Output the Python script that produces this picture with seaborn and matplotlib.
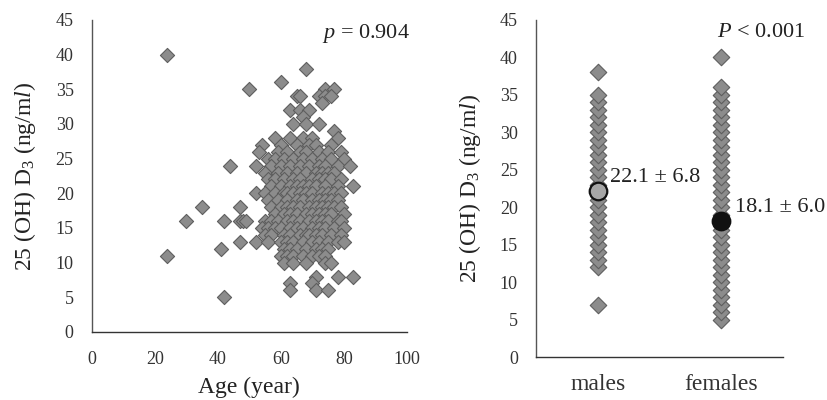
import numpy as np
import pandas as pd
import matplotlib
matplotlib.use('Agg')
import matplotlib.pyplot as plt
import seaborn as sns

# ── Data ─────────────────────────────────────────────────────
# left panel: age vs 25(OH)D3
age = [24,
       68, 60, 50, 74, 77, 65, 66, 72, 74, 76, 73, 63, 66, 69, 67,
       64, 68, 72, 77, 58, 63, 67, 70, 78,
       54, 60, 65, 69, 71, 76,
       53, 59, 62, 66, 68, 72, 75, 79,
       56, 58, 61, 64, 67, 70, 73, 76, 80,
       44, 52, 57, 60, 63, 66, 69, 72, 74, 78, 82,
       55, 59, 62, 65, 68, 71, 73, 75, 77,
       56, 58, 61, 64, 66, 70, 72, 74, 76, 79,
       57, 60, 63, 65, 67, 69, 71, 74, 78, 83,
       52, 55, 58, 61, 62, 64, 66, 68, 70, 73, 75, 77, 79,
       56, 59, 62, 65, 67, 70, 72, 74, 76, 78,
       35, 47, 57, 60, 62, 64, 66, 69, 71, 73, 75, 77, 79,
       58, 61, 63, 65, 68, 70, 72, 74, 76, 80,
       30, 42, 47, 48, 49, 55, 57, 59, 62, 64, 66, 69, 71, 73, 75, 78, 79,
       54, 56, 58, 60, 63, 65, 67, 70, 72, 74, 77, 80,
       55, 57, 61, 63, 66, 68, 69, 71, 73, 76, 79,
       47, 52, 56, 60, 62, 64, 67, 70, 72, 75, 78, 80,
       41, 61, 63, 65, 68, 71, 73, 75,
       24, 60, 62, 64, 67, 70, 72, 74,
       61, 64, 68, 74, 76,
       71, 78, 83, 63, 70, 63, 71, 75, 42]
vit_d = [40,
         38, 36, 35, 35, 35, 34, 34, 34, 34, 34, 33, 32, 32, 32, 31,
         30, 30, 30, 29, 28, 28, 28, 28, 28,
         27, 27, 27, 27, 27, 27,
         26, 26, 26, 26, 26, 26, 26, 26,
         25, 25, 25, 25, 25, 25, 25, 25, 25,
         24, 24, 24, 24, 24, 24, 24, 24, 24, 24, 24,
         23, 23, 23, 23, 23, 23, 23, 23, 23,
         22, 22, 22, 22, 22, 22, 22, 22, 22, 22,
         21, 21, 21, 21, 21, 21, 21, 21, 21, 21,
         20, 20, 20, 20, 20, 20, 20, 20, 20, 20, 20, 20, 20,
         19, 19, 19, 19, 19, 19, 19, 19, 19, 19,
         18, 18, 18, 18, 18, 18, 18, 18, 18, 18, 18, 18, 18,
         17, 17, 17, 17, 17, 17, 17, 17, 17, 17,
         16, 16, 16, 16, 16, 16, 16, 16, 16, 16, 16, 16, 16, 16, 16, 16, 16,
         15, 15, 15, 15, 15, 15, 15, 15, 15, 15, 15, 15,
         14, 14, 14, 14, 14, 14, 14, 14, 14, 14, 14,
         13, 13, 13, 13, 13, 13, 13, 13, 13, 13, 13, 13,
         12, 12, 12, 12, 12, 12, 12, 12,
         11, 11, 11, 11, 11, 11, 11, 11,
         10, 10, 10, 10, 10,
         8, 8, 8, 7, 7, 6, 6, 6, 5]

# right panel: distinct levels per sex
males_vals = [7] + list(range(12, 36)) + [38]
females_vals = list(range(5, 37)) + [40]
sex_order = ['males', 'females']
sex_means = [22.1, 18.1]
sex_sd = [6.8, 6.0]

# ── Style ────────────────────────────────────────────────────
sns.set_style('white')
plt.rcParams.update({
    'font.family': ['Liberation Serif', 'DejaVu Serif'],
    'mathtext.fontset': 'custom',
    'mathtext.rm': 'Liberation Serif',
    'mathtext.it': 'Liberation Serif:italic',
    'text.color': '#222222',
    'axes.labelcolor': '#222222',
    'xtick.color': '#333333',
    'ytick.color': '#333333',
    'axes.edgecolor': '#333333',
})

DIAMOND_FC = '#8c8c8c'
DIAMOND_EC = '#5e5e5e'
YLABEL = r'25 (OH) D$_3$ (ng/m$\it{l}$)'

fig = plt.figure(figsize=(8.27, 4.0), dpi=100)
fig.patch.set_facecolor('white')

# ── Left: scatter age vs vit D ───────────────────────────────
ax1 = fig.add_axes([0.111, 0.17, 0.381, 0.78])
sns.scatterplot(x=age, y=vit_d, ax=ax1, marker='D', s=52,
                color=DIAMOND_FC, edgecolor=DIAMOND_EC, linewidth=0.8,
                legend=False, zorder=3)
ax1.set_xlim(0, 100)
ax1.set_ylim(0, 45)
ax1.set_xticks(range(0, 101, 20))
ax1.set_yticks(range(0, 46, 5))
ax1.tick_params(axis='both', direction='in', length=6, width=1,
                labelsize=13, pad=13)
ax1.tick_params(axis='x', pad=14)
ax1.set_xlabel('Age (year)', fontsize=17, labelpad=6)
ax1.set_ylabel(YLABEL, fontsize=17, labelpad=13)
ax1.text(73, 43.1, r'$\it{p}$ = 0.904', fontsize=16, va='center')

# ── Right: sex strip plot ────────────────────────────────────
ax2 = fig.add_axes([0.648, 0.1075, 0.299, 0.8425])
df2 = pd.DataFrame({
    'sex': ['males'] * len(males_vals) + ['females'] * len(females_vals),
    'val': males_vals + females_vals,
})
sns.stripplot(data=df2, x='sex', y='val', order=sex_order, jitter=False,
              marker='D', size=8.4, color=DIAMOND_FC, edgecolor=DIAMOND_EC,
              linewidth=0.8, ax=ax2, zorder=3)
ax2.scatter([0], [sex_means[0]], s=160, facecolor='#a6a6a6',
            edgecolor='#111111', linewidth=1.6, zorder=5)
ax2.scatter([1], [sex_means[1]], s=160, facecolor='#111111',
            edgecolor='#111111', linewidth=1.6, zorder=5)
ax2.text(0.1, 24.0, f'{sex_means[0]} ± {sex_sd[0]}', fontsize=16, va='center')
ax2.text(1.11, 19.9, f'{sex_means[1]} ± {sex_sd[1]}', fontsize=16, va='center')
ax2.text(0.965, 43.3, r'$\it{P}$ < 0.001', fontsize=16, va='center')
ax2.set_xlim(-0.5, 1.5)
ax2.set_ylim(0, 45)
ax2.set_yticks(range(0, 46, 5))
ax2.tick_params(axis='y', direction='in', length=6, width=1,
                labelsize=13, pad=13)
ax2.tick_params(axis='x', length=0, labelsize=17, pad=12)
ax2.set_xlabel('')
ax2.set_ylabel(YLABEL, fontsize=17, labelpad=12)

for ax in (ax1, ax2):
    sns.despine(ax=ax)
    for sp in ('left', 'bottom'):
        ax.spines[sp].set_linewidth(1.0)
        ax.spines[sp].set_color('#333333')
    ax.spines['left'].set_color('#555555')

fig.savefig('out.png', dpi=100, facecolor='white')
